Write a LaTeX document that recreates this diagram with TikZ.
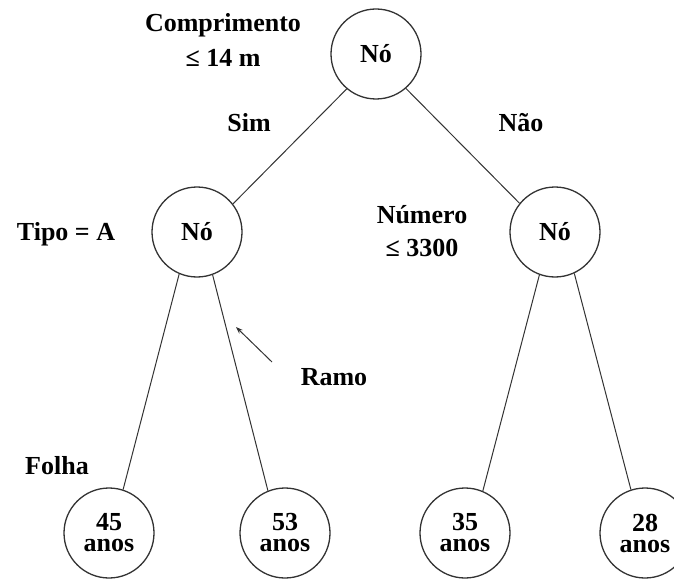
\documentclass[tikz,border=0pt]{standalone}
\usepackage{fontspec}
\setmainfont{Liberation Serif}
\usetikzlibrary{arrows.meta}
\begin{document}
\begin{tikzpicture}[x=1pt,y=-1pt,
  nd/.style={circle, draw=black!80, line width=1.3pt, minimum size=90pt, inner sep=0pt,
    font=\fontsize{26}{21}\selectfont\bfseries, align=center},
  lbl/.style={font=\fontsize{26}{28}\selectfont\bfseries, anchor=base, inner sep=0pt},
  br/.style={draw=black!80, line width=1pt}]
\useasboundingbox (0,0) rectangle (674,580);
% nodes
\node[nd] (root) at (376,54) {Nó};
\node[nd] (left) at (197,232) {Nó};
\node[nd] (right) at (555,232) {Nó};
\node[nd] (l1) at (109,533) {45\\anos};
\node[nd] (l2) at (285,533) {53\\anos};
\node[nd] (l3) at (465,533) {35\\anos};
\node[nd] (l4) at (645,533) {28\\anos};
% branches
\draw[br] (root.-130) -- (left.38);
\draw[br] (root.-49) -- (right.141);
\draw[br] (left.-113) -- (l1.72);
\draw[br] (left.-70) -- (l2.112);
\draw[br] (right.-110) -- (l3.67);
\draw[br] (right.-65) -- (l4.108);
% labels
\node[lbl] (comp) at (223,32) {Comprimento};
\node[lbl] (comp2) at (223,67) {≤ 14 m};
\node[lbl] (sim) at (249,132) {Sim};
\node[lbl] (nao) at (521,132) {Não};
\node[lbl] (tipo) at (66,240) {Tipo = A};
\node[lbl] (num) at (422,223) {Número};
\node[lbl] (num2) at (422,256) {≤ 3300};
\node[lbl] (ramo) at (334,385) {Ramo};
\node[lbl] (folha) at (57,474) {Folha};
% arrow
\coordinate (rtail) at (272,362);
\coordinate (rhead) at (236,327);
\draw[draw=black!80, line width=1pt, -{Stealth[length=7pt,width=5pt]}] (rtail) -- (rhead);
\end{tikzpicture}
\end{document}
